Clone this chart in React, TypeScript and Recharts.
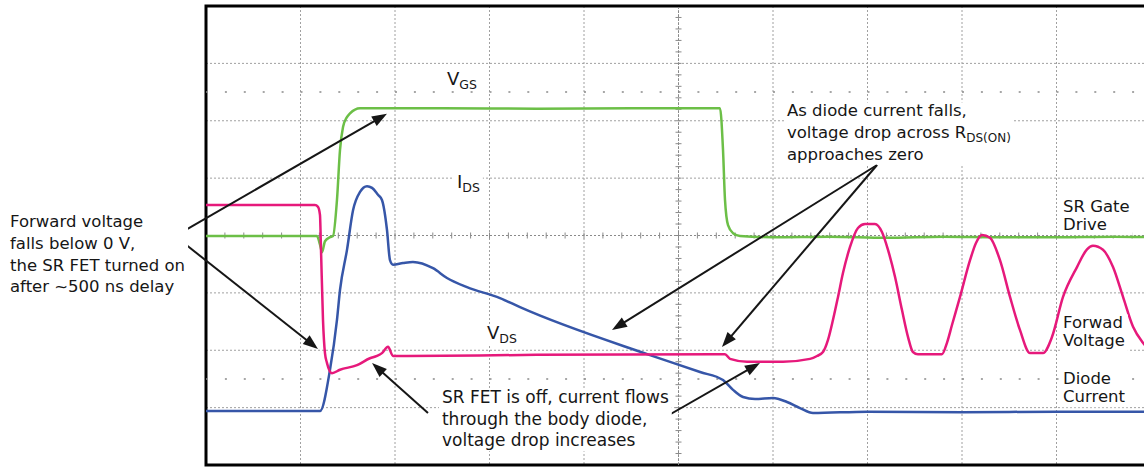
import React from 'react';
import {
  LineChart,
  Line,
  XAxis,
  YAxis,
  CartesianGrid,
  ReferenceLine,
  ReferenceArea,
  ReferenceDot,
} from 'recharts';

const FONT = '"DejaVu Sans", Verdana, sans-serif';
const INK = '#161616';

// Scope screen in divisions: time 0..10 (left to right), level 0..8 (bottom to top)
const xTicks = [0, 1, 2, 3, 4, 5, 6, 7, 8, 9, 10];
const yTicks = [0, 1, 2, 3, 4, 5, 6, 7, 8];

// SR gate drive (V_GS) – green trace
const gateDrive: [number, number][] = [
  [0, 3.99], [1.175, 3.99], [1.205, 3.85], [1.228, 3.71], [1.259, 3.9], [1.312, 3.97],
  [1.344, 3.99], [1.386, 4.62], [1.418, 5.49], [1.45, 5.89], [1.49, 6.06], [1.524, 6.13],
  [1.63, 6.22], [2.5, 6.22], [3.5, 6.21], [4.5, 6.22], [5.439, 6.22], [5.471, 5.49],
  [5.492, 4.62], [5.524, 4.18], [5.577, 4.04], [5.651, 3.99], [6.0, 3.97], [6.6, 3.98],
  [7.2, 3.96], [7.8, 3.98], [8.4, 3.97], [9.0, 3.97], [9.6, 3.98], [10, 3.97],
];

// Forward voltage (V_DS) – pink trace
const forwardVoltage: [number, number][] = [
  [0, 4.53], [1.153, 4.53], [1.185, 4.5], [1.206, 4.36], [1.217, 3.75], [1.238, 2.53],
  [1.259, 1.95], [1.28, 1.78], [1.333, 1.6], [1.418, 1.66], [1.598, 1.74], [1.735, 1.86],
  [1.81, 1.9], [1.862, 1.95], [1.926, 2.06], [1.979, 1.9], [2.127, 1.9], [3.5, 1.92],
  [5.492, 1.93], [5.545, 1.85], [5.725, 1.8], [6.106, 1.8], [6.392, 1.85], [6.466, 1.9],
  [6.529, 1.97], [6.582, 2.18], [6.635, 2.53], [6.688, 2.93], [6.741, 3.35], [6.815, 3.8],
  [6.899, 4.13], [6.974, 4.2], [7.079, 4.2], [7.153, 4.06], [7.217, 3.75], [7.291, 3.28],
  [7.365, 2.7], [7.429, 2.23], [7.481, 1.97], [7.534, 1.93], [7.788, 1.93], [7.841, 2.13],
  [7.894, 2.44], [7.979, 2.93], [8.085, 3.57], [8.148, 3.87], [8.212, 4.01], [8.296, 3.96],
  [8.402, 3.57], [8.508, 2.93], [8.614, 2.35], [8.72, 1.95], [8.857, 1.95], [8.952, 2.23],
  [9.069, 2.93], [9.217, 3.45], [9.323, 3.76], [9.386, 3.82], [9.492, 3.75], [9.598, 3.45],
  [9.704, 2.93], [9.81, 2.41], [9.915, 2.13], [10, 1.98],
];

// Diode current (I_DS) – blue trace
const diodeCurrent: [number, number][] = [
  [0, 0.94], [1.206, 0.94], [1.312, 1.66], [1.386, 2.53], [1.418, 3.05], [1.492, 3.75],
  [1.556, 4.44], [1.63, 4.76], [1.704, 4.86], [1.757, 4.83], [1.82, 4.71], [1.862, 4.62],
  [1.915, 4.1], [1.947, 3.57], [1.979, 3.49], [2.085, 3.52], [2.19, 3.54], [2.402, 3.43],
  [2.55, 3.26], [2.762, 3.1], [3.111, 2.91], [3.323, 2.75], [4.698, 1.915], [5.228, 1.62],
  [5.471, 1.48], [5.577, 1.31], [5.683, 1.185], [5.81, 1.15], [6.0, 1.168], [6.148, 1.098],
  [6.286, 0.993], [6.423, 0.906], [7, 0.93], [8, 0.92], [9, 0.93], [10, 0.93],
];

// Callout arrows (from text to trace), in divisions
const arrows: { from: [number, number]; to: [number, number] }[] = [
  { from: [-0.328, 3.99], to: [1.915, 6.12] },
  { from: [-0.328, 3.99], to: [1.185, 2.022] },
  { from: [7.101, 5.229], to: [4.296, 2.353] },
  { from: [7.101, 5.229], to: [5.46, 2.057] },
  { from: [2.349, 0.906], to: [1.757, 1.778] },
  { from: [4.751, 0.732], to: [5.862, 1.778] },
];

// Text notes: anchor = start of first baseline, in divisions
const notes: { x: number; y: number; kind: 'body' | 'bodyLarge' | 'label' | 'symbol'; lines: string[] }[] = [
  { x: -2.074, y: 4.148, kind: 'body', lines: ['Forward voltage', 'falls below 0 V,', 'the SR FET turned on', 'after ~500 ns delay'] },
  { x: 6.148, y: 6.083, kind: 'body', lines: ['As diode current falls,', 'voltage drop across R_{DS(ON)}', 'approaches zero'] },
  { x: 2.497, y: 1.081, kind: 'bodyLarge', lines: ['SR FET is off, current flows', 'through the body diode,', 'voltage drop increases'] },
  { x: 9.069, y: 4.41, kind: 'label', lines: ['SR Gate', 'Drive'] },
  { x: 9.069, y: 2.388, kind: 'label', lines: ['Forwad', 'Voltage'] },
  { x: 9.069, y: 1.412, kind: 'label', lines: ['Diode', 'Current'] },
  { x: 2.55, y: 6.623, kind: 'symbol', lines: ['V_{GS}'] },
  { x: 2.656, y: 4.828, kind: 'symbol', lines: ['I_{DS}'] },
  { x: 2.974, y: 2.196, kind: 'symbol', lines: ['V_{DS}'] },
];

const STYLES = {
  body: { size: 16.5, sub: 12, subDy: 4, lh: 21.8 },
  bodyLarge: { size: 17, sub: 12, subDy: 4, lh: 21.6 },
  label: { size: 16.5, sub: 12, subDy: 4, lh: 18.3 },
  symbol: { size: 18, sub: 12.5, subDy: 4, lh: 20 },
};

const toRows = (pts: [number, number][]) => pts.map(([x, y]) => ({ x, y }));

let _ctx: CanvasRenderingContext2D | null = null;
function measure(t: string, size: number) {
  if (!_ctx && typeof document !== 'undefined') {
    _ctx = document.createElement('canvas').getContext('2d');
  }
  if (!_ctx) return t.length * size * 0.6;
  _ctx.font = `${size}px "DejaVu Sans"`;
  return _ctx.measureText(t).width;
}

function parseLine(line: string) {
  const m = line.match(/^(.*?)_\{(.*)\}$/);
  if (!m) return [{ t: line, sub: false }];
  return [
    { t: m[1], sub: false },
    { t: m[2], sub: true },
  ];
}

function NoteBlock({ cx, cy, note }: any) {
  const st = (STYLES as any)[note.kind];
  const parsed = note.lines.map(parseLine);
  const widths = parsed.map((segs: any[]) =>
    segs.reduce((w, s) => w + measure(s.t, s.sub ? st.sub : st.size), 0)
  );
  const w = Math.max(...widths);
  const top = cy - st.size * 0.82;
  const bottom = cy + (note.lines.length - 1) * st.lh + st.size * 0.3;
  return (
    <g>
      <rect x={cx - 3} y={top} width={w + 6} height={bottom - top} fill="#fff" />
      <text fontFamily={FONT} fontSize={st.size} fill={INK}>
        {parsed.map((segs: any[], i: number) =>
          segs.map((s: any, j: number) =>
            j === 0 ? (
              <tspan key={`${i}-${j}`} x={cx} y={cy + i * st.lh}>
                {s.t}
              </tspan>
            ) : (
              <tspan key={`${i}-${j}`} dy={st.subDy} fontSize={st.sub}>
                {s.t}
              </tspan>
            )
          )
        )}
      </text>
    </g>
  );
}

function ArrowShape(p: any) {
  const { x1, y1, x2, y2 } = p;
  const dx = x2 - x1;
  const dy = y2 - y1;
  const len = Math.hypot(dx, dy) || 1;
  const ux = dx / len;
  const uy = dy / len;
  const L = 15;
  const W = 5.5;
  const bx = x2 - ux * L;
  const by = y2 - uy * L;
  const pts = `${x2},${y2} ${bx - uy * W},${by + ux * W} ${bx + uy * W},${by - ux * W}`;
  return (
    <g>
      <line x1={x1} y1={y1} x2={bx + ux * 2} y2={by + uy * 2} stroke={INK} strokeWidth={2} />
      <polygon points={pts} fill={INK} />
    </g>
  );
}

function VCenterShape(p: any) {
  const { x1, y1, x2, y2 } = p;
  const n = 40;
  const ticks = [];
  for (let k = 1; k < n; k++) {
    const y = y1 + ((y2 - y1) * k) / n;
    ticks.push(<line key={k} x1={x1 - 3} x2={x1 + 3} y1={y} y2={y} stroke="#8a8a8a" strokeWidth={1} />);
  }
  return (
    <g>
      <line x1={x1} y1={y1} x2={x2} y2={y2} stroke="#8a8a8a" strokeWidth={1} strokeDasharray="2 2" />
      {ticks}
    </g>
  );
}

function HCenterShape(p: any) {
  const { x1, y1, x2, y2 } = p;
  const n = 50;
  const ticks = [];
  for (let k = 1; k < n; k++) {
    const x = x1 + ((x2 - x1) * k) / n;
    ticks.push(<line key={k} x1={x} x2={x} y1={y1 - 3} y2={y1 + 3} stroke="#8a8a8a" strokeWidth={1} />);
  }
  return (
    <g>
      <line x1={x1} y1={y1} x2={x2} y2={y2} stroke="#8a8a8a" strokeWidth={1} strokeDasharray="2 2" />
      {ticks}
    </g>
  );
}

export default function App() {
  return (
    <div
      style={{
        position: 'absolute',
        left: 0,
        top: 0,
        width: 1144,
        height: 467,
        overflow: 'hidden',
        background: '#fff',
      }}
    >
      <LineChart width={1152} height={467} margin={{ top: 6, right: 1, bottom: 2, left: 206 }}>
        <XAxis type="number" dataKey="x" domain={[0, 10]} ticks={xTicks} hide allowDataOverflow />
        <YAxis type="number" dataKey="y" domain={[0, 8]} ticks={yTicks} hide allowDataOverflow />
        <CartesianGrid stroke="#a0a0a0" strokeDasharray="2 2" />
        <ReferenceLine y={6.5} stroke="#8a8a8a" strokeWidth={1.5} strokeDasharray="2 16.9" />
        <ReferenceLine y={1.5} stroke="#8a8a8a" strokeWidth={1.5} strokeDasharray="2 16.9" />
        <ReferenceLine x={5} shape={VCenterShape} />
        <ReferenceLine y={4} shape={HCenterShape} />
        <Line
          data={toRows(gateDrive)}
          dataKey="y"
          type="monotone"
          stroke="#6cbf47"
          strokeWidth={2.5}
          dot={false}
          isAnimationActive={false}
        />
        <Line
          data={toRows(diodeCurrent)}
          dataKey="y"
          type="monotone"
          stroke="#3656a8"
          strokeWidth={2.5}
          dot={false}
          isAnimationActive={false}
        />
        <Line
          data={toRows(forwardVoltage)}
          dataKey="y"
          type="monotone"
          stroke="#e6197b"
          strokeWidth={2.5}
          dot={false}
          isAnimationActive={false}
        />
        <ReferenceArea
          x1={0}
          x2={10}
          y1={0}
          y2={8}
          fill="none"
          fillOpacity={0}
          stroke="#000"
          strokeWidth={3}
          ifOverflow="visible"
        />
        {notes.map((n, i) => (
          <ReferenceDot
            key={`n${i}`}
            x={n.x}
            y={n.y}
            r={0}
            ifOverflow="visible"
            shape={(p: any) => <NoteBlock cx={p.cx} cy={p.cy} note={n} />}
          />
        ))}
        {arrows.map((a, i) => (
          <ReferenceLine
            key={`a${i}`}
            segment={[
              { x: a.from[0], y: a.from[1] },
              { x: a.to[0], y: a.to[1] },
            ]}
            ifOverflow="visible"
            shape={ArrowShape}
          />
        ))}
      </LineChart>
    </div>
  );
}
